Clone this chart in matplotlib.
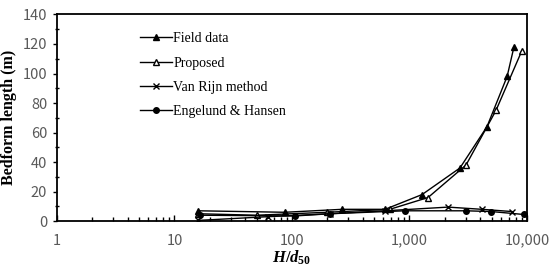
import matplotlib
matplotlib.use('Agg')
import matplotlib.pyplot as plt
from matplotlib.ticker import FuncFormatter, LogLocator, MultipleLocator

plt.rcParams['mathtext.fontset'] = 'custom'
plt.rcParams['mathtext.it'] = 'Liberation Serif:italic:bold'
plt.rcParams['mathtext.bf'] = 'Liberation Serif:bold'
plt.rcParams['mathtext.rm'] = 'Liberation Serif:bold'

# values
field_x = [16, 87, 267, 620, 1280, 2690, 4570, 6780, 7750]
field_y = [7, 6, 8, 8, 18, 36, 64, 98, 118]

prop_x = [16, 50, 199, 680, 1440, 3030, 5450, 9000]
prop_y = [5, 4, 6, 8, 16, 38, 75, 115]

rijn_x = [16, 62, 210, 620, 2130, 4140, 7430]
rijn_y = [0.5, 3, 5, 7, 9.5, 8, 6.5]

eng_x = [16.5, 106, 210, 915, 3020, 4970, 9400]
eng_y = [4, 3.5, 5, 7, 7, 6.5, 4.5]

plt.figure(figsize=(5.5, 2.73), dpi=100)
ax = plt.axes([0.1036, 0.19, 0.8545, 0.757])

ax.plot(field_x, field_y, color='black', lw=1, marker='^', ms=5, label='Field data')
ax.plot(prop_x, prop_y, color='black', lw=1, marker='^', ms=5, mfc='white', label='Proposed')
ax.plot(rijn_x, rijn_y, color='black', lw=1, marker='x', ms=5, label='Van Rijn method')
ax.plot(eng_x, eng_y, color='black', lw=1, marker='o', ms=4, label='Engelund & Hansen')

ax.set_xscale('log')
ax.set_xlim(1, 10000)
ax.set_ylim(0, 140)
ax.yaxis.set_major_locator(MultipleLocator(20))
ax.yaxis.set_minor_locator(MultipleLocator(10))
ax.xaxis.set_major_formatter(FuncFormatter(lambda v, p: '{:,.0f}'.format(v)))
ax.xaxis.set_minor_locator(LogLocator(base=10, subs=range(2, 10)))

for s in ax.spines.values():
    s.set_linewidth(1.3)
ax.tick_params(axis='x', which='major', direction='in', length=4, width=1)
ax.tick_params(axis='x', which='minor', direction='in', length=3, width=1)
ax.tick_params(axis='y', which='major', direction='out', length=3, width=1)
ax.tick_params(axis='y', which='minor', direction='inout', length=3, width=1)
ax.tick_params(labelsize=10.5, labelcolor='#595959', pad=4)
ax.tick_params(axis='x', pad=9)
for lab in ax.get_xticklabels() + ax.get_yticklabels():
    lab.set_family(['Noto Sans CJK SC', 'DejaVu Sans'])

ax.set_ylabel('Bedform length (m)', family='Liberation Serif', fontweight='bold', fontsize=11.5)
ax.set_xlabel('$\\mathit{H/d}_{\\mathrm{50}}$', fontsize=12, labelpad=1)

ax.legend(loc='upper left', bbox_to_anchor=(0.15, 0.975), frameon=False,
          prop={'family': 'Liberation Serif', 'size': 10}, labelspacing=0.82,
          handlelength=2.3, handletextpad=0.1)

plt.savefig('out.png', dpi=100)
